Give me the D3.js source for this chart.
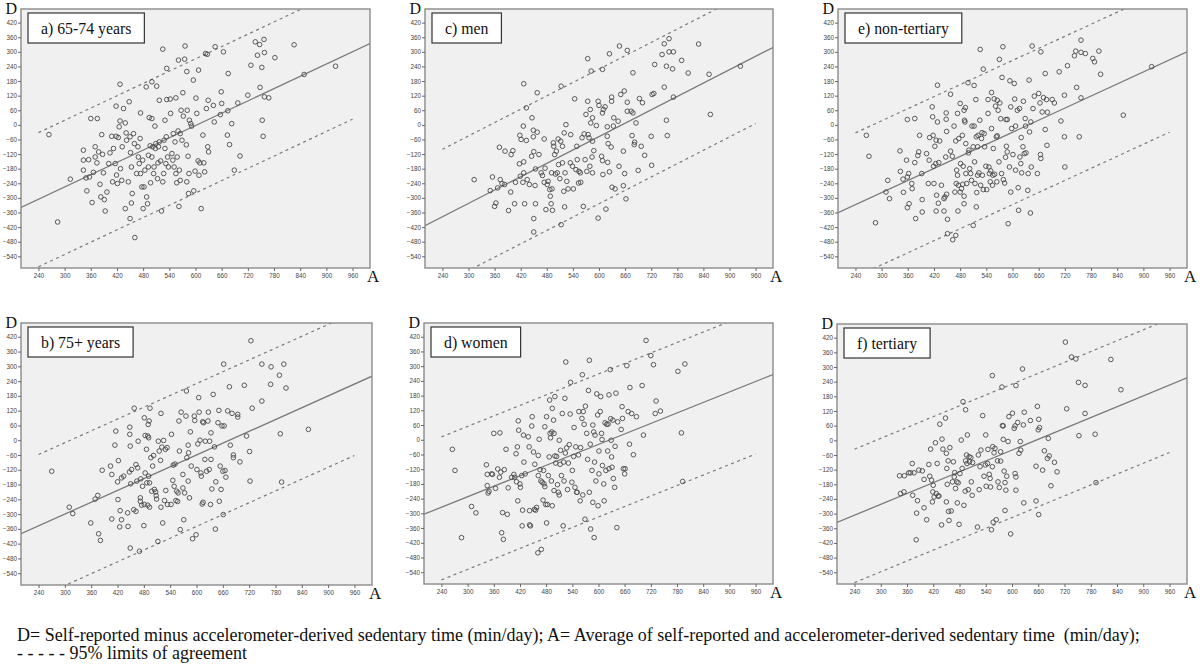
<!DOCTYPE html>
<html>
<head>
<meta charset="utf-8">
<script src="https://cdn.jsdelivr.net/npm/d3@7/dist/d3.min.js"></script>
<style>
  body { margin: 0; background: #fff; }
  svg text { font-family: "Liberation Serif", "Times New Roman", serif; }
  .tick text { font-family: "Liberation Sans", Arial, sans-serif; }
</style>
</head>
<body>
<svg id="chart" width="1200" height="667"></svg>
<script>
// axis ticks shared by every panel
var xTicks = [240, 300, 360, 420, 480, 540, 600, 660, 720, 780, 840, 900, 960];
var yTicks = [-540, -480, -420, -360, -300, -240, -180, -120, -60, 0, 60, 120, 180, 240, 300, 360, 420];

// panel order: a, b, c, d, e, f
var panelLabels = ["a) 65-74 years", "b) 75+ years", "c) men", "d) women", "e) non-tertiary", "f) tertiary"];

// regression of D on A and 95% limits (offset from the regression line)
var fitSlope     = [0.842, 0.800, 0.915, 0.712, 0.826, 0.740];
var fitIntercept = [-508, -540, -597, -446, -526, -484];
var loaUpper     = [274, 290, 277, 287, 295, 270];
var loaLower     = [-277, -290, -276, -296, -297, -276];

// points [A, D]
var pointsA = [[264,-40],[284,-399],[313,-223],[343,-104],[343,-145],[343,-186],[349,-218],[351,-271],[355,-143],[357,-214],[360,26],[363,-319],[366,-195],[370,-90],[370,-132],[374,-156],[375,26],[378,-111],[381,-244],[383,-296],[385,-40],[387,-121],[389,-197],[391,-307],[393,-354],[397,-276],[401,-159],[404,-115],[408,-47],[410,-234],[412,-97],[416,-159],[418,77],[418,-47],[419,-206],[421,-241],[423,-52],[425,-8],[427,167],[427,16],[428,-180],[431,-228],[432,-90],[435,67],[439,8],[439,-344],[441,-33],[442,-63],[446,-234],[448,95],[450,-49],[450,-385],[451,-114],[453,-173],[453,-321],[455,-282],[458,-36],[460,-77],[461,-463],[465,-200],[468,-90],[469,-132],[471,-159],[473,-56],[474,49],[474,-200],[477,-255],[479,-145],[480,-344],[482,-255],[484,-186],[487,156],[488,-296],[490,-324],[492,-125],[492,-173],[494,30],[496,-86],[497,-238],[500,177],[500,26],[500,-132],[502,-90],[504,-200],[505,-173],[507,-5],[508,-97],[509,-77],[511,159],[513,-221],[514,-156],[515,-90],[517,101],[517,-70],[520,-148],[522,-354],[525,311],[525,-234],[527,-200],[528,-63],[530,19],[530,-97],[532,-159],[533,-49],[534,232],[534,104],[536,-132],[538,-173],[542,106],[543,47],[546,-118],[548,-145],[549,-36],[551,-173],[553,-70],[555,111],[555,-200],[557,-238],[558,-132],[560,-25],[561,266],[562,-335],[563,-186],[565,-36],[565,-228],[567,60],[569,-63],[571,132],[572,36],[575,270],[576,324],[579,-82],[580,-234],[580,219],[581,60],[583,-129],[585,-200],[584,-282],[586,19],[589,5],[591,-5],[595,184],[596,-271],[599,-190],[601,110],[603,47],[606,-148],[607,225],[608,-207],[610,-156],[613,-344],[617,-42],[619,-156],[621,-193],[623,293],[625,67],[627,290],[628,-90],[629,101],[630,-111],[641,80],[643,12],[645,321],[657,42],[659,136],[660,88],[664,300],[673,-42],[674,58],[675,211],[678,-81],[683,5],[689,-186],[697,90],[702,-128],[720,122],[727,245],[737,341],[742,286],[747,330],[748,154],[752,236],[753,19],[755,-47],[757,351],[758,297],[758,115],[768,111],[782,276],[826,329],[849,207],[921,241]];

var pointsB = [[270,-126],[310,-272],[318,-298],[359,-336],[369,-239],[375,-224],[377,-380],[381,-407],[385,-122],[404,-105],[407,-139],[407,-320],[414,-20],[416,37],[420,-169],[421,-241],[422,-83],[425,-352],[426,-286],[429,-153],[429,-323],[434,-146],[443,-295],[444,-350],[447,-129],[448,53],[448,24],[449,-24],[449,-438],[450,-177],[452,-119],[457,-282],[458,130],[462,-99],[462,-289],[464,-166],[466,-112],[467,-4],[470,-451],[472,-248],[472,-234],[473,-157],[475,-264],[477,-187],[480,-347],[481,91],[481,-261],[483,19],[483,-133],[486,-37],[487,-173],[489,17],[489,-264],[490,64],[491,10],[491,-146],[492,78],[493,-173],[493,-272],[494,130],[496,-71],[498,-207],[500,-105],[502,-62],[504,-200],[507,-210],[508,-225],[509,-239],[512,-411],[513,-4],[515,-44],[518,-82],[519,109],[519,-272],[521,-28],[523,-336],[525,-1],[527,-245],[529,-37],[530,-204],[533,-30],[534,-261],[542,-261],[543,24],[546,-163],[547,-101],[549,-187],[551,-97],[553,-245],[555,-207],[557,-249],[558,-214],[560,78],[561,-44],[563,-363],[565,114],[569,-194],[569,-139],[571,-323],[573,-214],[576,98],[577,200],[578,-71],[581,-166],[581,-20],[582,-51],[584,-234],[586,34],[588,-105],[591,-400],[595,98],[596,80],[599,-384],[601,-119],[603,-15],[605,173],[606,114],[608,0],[610,-133],[611,-146],[613,-259],[614,75],[615,-252],[616,71],[619,-78],[620,-4],[623,-126],[626,78],[627,114],[629,-119],[630,-4],[632,-261],[633,-78],[633,30],[635,-198],[638,186],[641,-27],[643,-361],[644,-169],[649,71],[651,121],[652,-248],[654,-105],[656,-200],[658,58],[660,-126],[661,-302],[662,309],[663,58],[665,-123],[667,-150],[671,119],[675,217],[677,-20],[681,109],[684,-71],[684,-60],[694,105],[694,94],[699,-88],[709,223],[714,17],[721,-46],[722,-166],[724,404],[727,130],[749,159],[749,309],[769,227],[770,298],[789,264],[791,26],[794,-170],[799,309],[804,212],[855,44]];

var pointsC = [[313,-225],[350,-270],[355,-214],[360,-335],[363,-321],[367,-259],[371,-92],[373,-225],[377,-241],[383,-245],[384,-108],[392,-352],[397,-276],[398,-122],[402,-106],[406,-324],[408,-236],[417,-160],[418,-43],[419,-211],[421,-60],[425,-236],[426,-5],[427,-152],[427,-197],[427,169],[429,-324],[433,-64],[433,70],[435,-225],[440,-245],[445,-129],[446,29],[449,-22],[449,-49],[450,-110],[450,-385],[453,-249],[454,-181],[454,-324],[458,132],[450,-440],[458,-30],[462,-122],[467,-197],[470,-208],[474,-58],[474,-236],[476,-178],[478,-348],[481,-245],[483,-232],[487,-266],[488,-293],[490,-324],[491,-197],[492,-263],[493,-351],[495,-74],[496,-88],[498,-122],[500,-202],[502,-108],[504,-197],[506,-58],[507,-163],[510,-221],[512,-67],[513,159],[513,-410],[516,-88],[516,-156],[519,-273],[520,-33],[521,-337],[522,-197],[524,1],[526,-232],[529,-263],[534,-156],[535,-40],[539,-170],[541,-263],[544,107],[547,-184],[549,-88],[550,-143],[553,-239],[554,-191],[557,-197],[558,-236],[561,-53],[564,-335],[566,-37],[568,-143],[570,43],[572,-191],[574,97],[574,272],[575,-40],[577,-53],[579,-170],[580,63],[581,8],[582,221],[584,-132],[585,-67],[585,29],[585,-197],[588,-106],[594,-3],[598,-383],[598,97],[600,80],[606,-129],[608,-147],[608,49],[608,228],[609,-204],[610,63],[614,74],[616,-346],[619,-8],[619,-47],[620,-154],[621,-77],[624,-193],[624,292],[628,-91],[629,114],[629,97],[630,-256],[633,-5],[634,29],[637,-263],[644,15],[646,-170],[647,324],[650,125],[656,-108],[656,-250],[658,139],[659,-200],[662,-304],[665,93],[665,306],[665,56],[674,56],[676,-44],[678,214],[678,49],[681,-81],[682,-71],[685,8],[690,-187],[693,108],[697,-88],[700,91],[705,-125],[720,-47],[721,-166],[722,125],[726,129],[728,248],[745,289],[750,155],[750,333],[755,241],[755,19],[757,-44],[761,354],[761,300],[769,230],[771,300],[771,114],[790,265],[805,213],[829,332],[853,208],[856,43],[925,241]];

var pointsD = [[265,-39],[271,-125],[286,-399],[309,-272],[319,-298],[343,-102],[345,-141],[345,-187],[347,-217],[349,-210],[355,-139],[357,-141],[360,26],[364,-198],[369,-119],[373,-153],[374,28],[376,-132],[378,-379],[380,-297],[382,-406],[384,-122],[388,-39],[391,-304],[393,-196],[401,-153],[406,-141],[408,-153],[411,-57],[412,-171],[414,-29],[415,-249],[416,77],[417,39],[420,-180],[421,-194],[424,-146],[425,-351],[426,-287],[428,19],[429,-91],[432,-139],[439,12],[441,-29],[442,-347],[442,-289],[444,-351],[447,56],[448,94],[451,-50],[453,-284],[454,-100],[456,-287],[458,-276],[461,-461],[462,-64],[462,-146],[464,2],[466,-122],[468,-168],[469,-447],[471,-173],[473,-246],[474,-125],[475,-180],[477,53],[477,-191],[479,-264],[481,-339],[481,94],[483,-264],[485,-146],[487,-70],[488,162],[489,26],[490,8],[492,-168],[493,32],[494,-269],[494,128],[497,80],[498,-207],[498,26],[500,176],[500,-66],[502,-95],[504,-68],[506,-183],[508,-214],[510,-2],[510,-225],[512,-100],[513,-43],[515,-146],[517,107],[519,-351],[520,-91],[521,-168],[523,169],[524,-54],[525,317],[527,-33],[529,-203],[531,-95],[533,-20],[535,105],[536,234],[539,-173],[540,-125],[543,-68],[544,50],[546,-194],[548,-29],[550,-214],[551,-214],[554,-62],[555,115],[558,-249],[559,-32],[562,87],[563,265],[564,-225],[565,115],[567,63],[569,-324],[570,137],[573,26],[575,-80],[577,201],[579,324],[579,-214],[581,-18],[582,-364],[585,-125],[587,60],[587,-255],[589,32],[590,-399],[591,-91],[592,19],[594,-168],[596,187],[598,101],[599,-269],[601,-46],[601,-139],[604,115],[605,176],[607,26],[608,1],[609,-105],[612,-180],[613,-249],[615,69],[617,-125],[619,63],[621,-46],[622,64],[624,-118],[624,183],[627,286],[628,86],[629,-2],[630,-70],[631,-112],[633,80],[634,-158],[637,-194],[638,-27],[640,190],[642,-358],[644,73],[652,42],[654,135],[655,87],[657,-118],[660,-139],[661,-118],[665,302],[668,115],[671,-18],[672,213],[676,107],[680,-61],[687,94],[700,221],[703,19],[709,405],[720,343],[726,306],[730,107],[732,158],[742,117],[782,279],[790,28],[793,-170],[798,309]];

var pointsE = [[265,-43],[271,-129],[286,-402],[310,-276],[314,-228],[318,-303],[342,-107],[343,-191],[349,-223],[350,-277],[357,-145],[359,-214],[359,22],[359,-340],[362,-200],[363,-324],[369,-241],[370,-262],[376,26],[376,-155],[378,-385],[383,-126],[385,-111],[387,-43],[392,-200],[393,-307],[393,-358],[403,-118],[407,-241],[409,-145],[410,-52],[416,74],[417,33],[418,-43],[419,-170],[420,-241],[422,-88],[424,-159],[425,-63],[425,-354],[426,-289],[428,12],[428,163],[430,-322],[431,-155],[433,-66],[437,-248],[443,-303],[443,-354],[445,-296],[447,-132],[448,49],[448,23],[449,-285],[449,-27],[451,-388],[451,-447],[458,126],[458,-108],[462,-129],[463,-472],[466,-5],[468,-276],[470,-66],[470,-454],[471,-241],[472,-186],[474,-207],[474,47],[475,-354],[476,-248],[477,-56],[480,88],[480,-276],[481,-159],[483,-262],[485,-43],[486,-244],[487,-170],[489,-324],[489,60],[489,-293],[490,19],[491,12],[492,71],[493,-200],[493,-77],[495,-241],[498,173],[499,-115],[500,-104],[502,-180],[504,-200],[506,-228],[507,-5],[510,-90],[510,-413],[512,162],[512,-5],[513,-152],[514,-241],[516,104],[517,-49],[517,-337],[518,-278],[520,-90],[520,-207],[521,-43],[523,-197],[525,19],[526,310],[527,-248],[529,-56],[530,-32],[531,-207],[533,229],[533,-266],[535,-36],[536,-90],[539,-170],[541,-266],[544,47],[544,104],[546,-173],[547,-200],[549,-234],[550,-189],[552,133],[552,-15],[554,-248],[555,-207],[556,-97],[558,107],[559,-203],[561,77],[563,-49],[564,-234],[565,-45],[565,101],[567,60],[569,-152],[570,269],[571,90],[573,25],[575,-200],[576,195],[578,321],[579,-225],[582,-239],[584,-133],[585,22],[586,-88],[588,-111],[588,22],[590,-406],[593,-173],[594,181],[596,74],[596,-276],[598,-15],[601,-122],[604,170],[605,106],[607,-5],[607,-186],[611,60],[613,-258],[614,-351],[616,67],[617,-132],[619,-159],[620,-52],[621,-197],[624,-90],[625,97],[627,-118],[629,26],[630,-5],[631,-115],[635,-269],[636,-200],[638,184],[639,-29],[641,-362],[642,12],[643,-173],[645,324],[647,67],[650,118],[657,-200],[660,129],[663,90],[664,-122],[665,300],[665,-138],[668,53],[671,112],[675,211],[675,-19],[678,104],[679,-84],[680,52],[691,104],[696,90],[707,218],[711,16],[719,122],[719,-49],[720,-173],[726,243],[742,284],[745,303],[747,154],[753,-49],[757,348],[757,298],[757,111],[767,293],[784,273],[788,259],[798,303],[802,208],[854,40],[919,239]];

var pointsF = [[343,-145],[345,-218],[353,-211],[354,-145],[364,-133],[368,-133],[372,-95],[373,-225],[376,-133],[382,-298],[384,-247],[381,-407],[387,-122],[395,-125],[399,-160],[399,-276],[405,-325],[410,-99],[412,-147],[414,-36],[416,-163],[418,-252],[419,-211],[420,-184],[422,-232],[425,-10],[427,-218],[429,-95],[431,-228],[433,-228],[435,66],[439,-346],[440,5],[442,-36],[448,91],[450,-252],[450,-53],[451,-115],[452,-180],[454,-84],[455,-291],[456,-328],[458,-30],[461,-289],[464,-170],[466,-88],[468,-150],[469,-132],[471,-197],[474,-170],[475,-256],[477,-174],[479,-344],[481,-136],[484,1],[486,-115],[488,158],[490,-266],[493,-208],[494,125],[494,-84],[496,-60],[497,-95],[498,22],[500,-202],[502,-67],[503,-88],[506,-71],[507,-170],[509,-225],[510,-91],[521,-355],[523,-60],[525,-202],[527,-108],[529,-40],[533,101],[536,-147],[539,-101],[540,22],[541,-188],[544,-95],[545,-37],[548,-139],[550,-156],[551,-191],[553,-366],[555,-108],[555,265],[556,-26],[557,-335],[559,-51],[561,-33],[564,-325],[567,-84],[568,-170],[571,-193],[574,-47],[574,-85],[577,218],[578,60],[580,4],[580,59],[582,-126],[584,-287],[584,-173],[586,-204],[588,-147],[591,-5],[593,97],[597,-383],[601,111],[605,49],[607,59],[607,-136],[609,-150],[609,-204],[609,224],[613,73],[616,-53],[619,-5],[620,-40],[624,292],[626,63],[627,-256],[628,115],[642,81],[655,-106],[655,-248],[658,139],[660,43],[661,-304],[661,86],[663,52],[670,-122],[674,-43],[681,-74],[683,8],[685,-64],[689,-186],[697,-90],[703,-129],[722,402],[725,129],[736,341],[746,333],[752,237],[753,19],[767,225],[767,110],[790,25],[792,-173],[826,331],[849,207]];

var panelPoints = [pointsA, pointsB, pointsC, pointsD, pointsE, pointsF];

// layout: plot frame of each panel on the page
var frames = [
  {x0: 21,  y0: 9,   x1: 370,  y1: 268},
  {x0: 21,  y0: 323, x1: 372,  y1: 585},
  {x0: 425, y0: 9,   x1: 773,  y1: 268},
  {x0: 424, y0: 323, x1: 773,  y1: 584},
  {x0: 838, y0: 9,   x1: 1187, y1: 268},
  {x0: 837, y0: 324, x1: 1187, y1: 584}
];

var svg = d3.select('#chart');
svg.append('rect').attr('width', 1200).attr('height', 667).attr('fill', '#fff');

panelPoints.forEach(function(pts, i){ drawPanel(i, pts); });

function drawPanel(i, pts) {
  var f = frames[i];
  var x = d3.scaleLinear().domain([200, 1000]).range([f.x0, f.x1]);
  var y = d3.scaleLinear().domain([-588, 476]).range([f.y1, f.y0]);
  var g = svg.append('g');

  g.append('clipPath').attr('id', 'clip' + i)
    .append('rect')
    .attr('x', f.x0).attr('y', f.y0)
    .attr('width', f.x1 - f.x0).attr('height', f.y1 - f.y0);

  g.append('rect')
    .attr('x', f.x0).attr('y', f.y0)
    .attr('width', f.x1 - f.x0).attr('height', f.y1 - f.y0)
    .attr('fill', '#f0f0f0');

  var plot = g.append('g').attr('clip-path', 'url(#clip' + i + ')');
  var fit = function(a, off){ return fitSlope[i] * a + fitIntercept[i] + off; };

  // regression line across whole frame
  plot.append('line')
    .attr('x1', x(200)).attr('y1', y(fit(200, 0)))
    .attr('x2', x(1000)).attr('y2', y(fit(1000, 0)))
    .attr('stroke', '#7a7a7a').attr('stroke-width', 1.3);

  // 95% limits of agreement
  [loaUpper[i], loaLower[i]].forEach(function(off){
    plot.append('line')
      .attr('x1', x(240)).attr('y1', y(fit(240, off)))
      .attr('x2', x(960)).attr('y2', y(fit(960, off)))
      .attr('stroke', '#7a7a7a').attr('stroke-width', 1.2)
      .attr('stroke-dasharray', '3,3.5');
  });

  plot.selectAll('circle').data(pts).enter().append('circle')
    .attr('cx', function(d){ return x(d[0]); })
    .attr('cy', function(d){ return y(d[1]); })
    .attr('r', 2.3)
    .attr('fill', 'none')
    .attr('stroke', '#4a4a4a')
    .attr('stroke-width', 0.9);

  g.append('rect')
    .attr('x', f.x0).attr('y', f.y0)
    .attr('width', f.x1 - f.x0).attr('height', f.y1 - f.y0)
    .attr('fill', 'none').attr('stroke', '#8a8a8a').attr('stroke-width', 1.4);

  var yAxis = g.append('g')
    .attr('transform', 'translate(' + f.x0 + ',0)')
    .call(d3.axisLeft(y).tickValues(yTicks).tickSize(3).tickPadding(1));
  var xAxis = g.append('g')
    .attr('transform', 'translate(0,' + f.y1 + ')')
    .call(d3.axisBottom(x).tickValues(xTicks).tickSize(3).tickPadding(3));
  [yAxis, xAxis].forEach(function(ax){
    ax.select('.domain').remove();
    ax.selectAll('line').attr('stroke', '#666');
    ax.selectAll('text').attr('fill', '#444').style('font-size', '6.3px');
  });

  // axis letters
  g.append('text').attr('x', f.x0 - 4).attr('y', f.y0 + 5)
    .attr('text-anchor', 'end').style('font-size', '16px').attr('fill', '#111')
    .text('D');
  g.append('text').attr('x', f.x1 - 3).attr('y', f.y1 + 14)
    .style('font-size', '17px').attr('fill', '#111')
    .text('A');

  // panel label box
  var bx = f.x0 + 7, by = f.y0 + 4;
  var box = g.append('rect').attr('x', bx).attr('y', by).attr('height', 30)
    .attr('fill', '#fff').attr('stroke', '#333').attr('stroke-width', 1.2);
  var lbl = g.append('text').attr('x', bx + 13).attr('y', by + 20.5)
    .style('font-size', '15.8px').attr('fill', '#111')
    .text(panelLabels[i]);
  box.attr('width', lbl.node().getComputedTextLength() + 26);
}

var notes = [
  'D= Self-reported minus accelerometer-derived sedentary time (min/day); A= Average of self-reported and accelerometer-derived sedentary time\u00a0 (min/day);',
  '- - - - - 95% limits of agreement'
];
svg.selectAll('text.note').data(notes).enter().append('text')
  .attr('class', 'note')
  .attr('x', 17)
  .attr('y', function(d, i){ return 641 + i * 18; })
  .style('font-size', '18px')
  .attr('fill', '#111')
  .text(function(d){ return d; });
</script>
</body>
</html>
